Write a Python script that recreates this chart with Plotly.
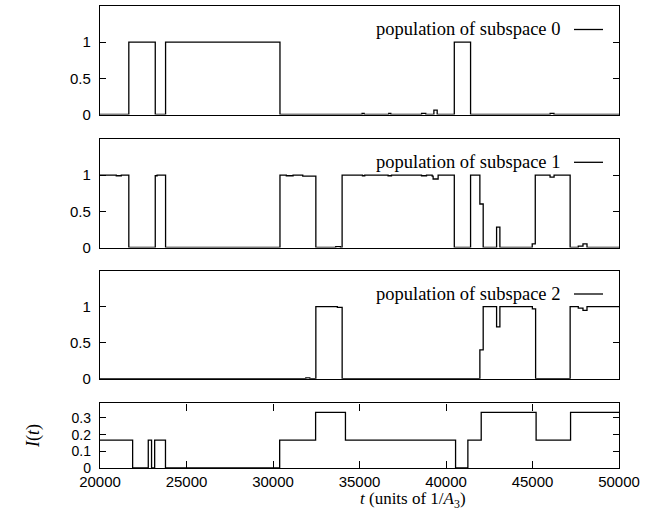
import plotly.graph_objects as go

# ---------------- data ----------------
s0_t = [20000, 21666, 23194, 23790, 30403, 35150, 35270, 36690, 36810, 38590, 38830,
        39300, 39490, 40480, 41420, 46020, 46240, 50000]
s0_v = [0, 1, 0, 1, 0, 0.015, 0, 0.015, 0, 0.015, 0,
        0.06, 0, 1, 0, 0.015, 0, 0]

s1_t = [20000, 20940, 21230, 21666, 23194, 23300, 23790, 30403, 30770, 31160, 31720,
        32477, 33626, 33898, 33995, 35171, 35304, 36652, 36849, 38585, 38874, 39200,
        39256, 39545, 40480, 41420, 41958, 42150, 42924, 43115, 44984, 45160, 46015,
        46247, 47176, 47646, 47918, 48150, 50000]
s1_v = [1.0, 0.99, 1.0, 0, 0.99, 1.0, 0, 1.0, 0.99, 1.0, 0.985,
        0, 0.012, 0, 1.0, 0.99, 1.0, 0.99, 1.0, 0.99, 1.0, 0.985,
        0.945, 1.0, 0, 1.0, 0.6, 0, 0.28, 0, 0.05, 1.0, 0.97,
        1.0, 0, 0.02, 0.05, 0, 0]

s2_t = [20000, 31896, 32128, 32477, 33720, 33997, 41958, 42150, 42924, 43115, 44993,
        45180, 47176, 47646, 47918, 48150, 50000]
s2_v = [0, 0.012, 0, 1.0, 0.99, 0, 0.4, 1.0, 0.72, 1.0, 0.97,
        0, 1.0, 0.98, 0.95, 1.0, 1.0]

I_t = [20000, 21886, 22790, 22980, 23160, 23785, 30386, 32463, 34188, 40553, 41264,
       42035, 45208, 47200, 50000]
I_v = [1/6, 0, 1/6, 0, 1/6, 0, 1/6, 1/3, 1/6, 0, 1/6,
       1/3, 1/6, 1/3, 1/3]

legend_names = ["population of subspace 0", "population of subspace 1",
                "population of subspace 2"]
x_ticks = [20000, 25000, 30000, 35000, 40000, 45000, 50000]
x_ticktext = ["20000", "25000", "30000", "35000", "40000", "45000", "50000"]
pop_ticks = [0, 0.5, 1]
pop_ticktext = ["0", "0.5", "1"]
I_ticks = [0, 0.1, 0.2, 0.3]
I_ticktext = ["0", "0.1", "0.2", "0.3"]

# ---------------- figure ----------------
W, H = 662, 510
ML, MR, MT, MB = 100, 43, 6, 42
PW, PH = W - ML - MR, H - MT - MB

def fy(py):  # pixel y -> paper fraction
    return (H - MB - py) / PH

def fx(px):
    return (px - ML) / PW

domains = [
    [fy(114.5), fy(6)],
    [fy(247.5), fy(138.8)],
    [fy(378.7), fy(270.7)],
    [fy(468), fy(403.3)],
]

fig = go.Figure()
series = [(s0_t, s0_v), (s1_t, s1_v), (s2_t, s2_v), (I_t, I_v)]
for i, (t, v) in enumerate(series):
    suffix = "" if i == 0 else str(i + 1)
    fig.add_trace(go.Scatter(x=t, y=v, mode="lines", line=dict(color="black", width=1.3, shape="hv"),
                             xaxis="x" + suffix, yaxis="y" + suffix, showlegend=False,
                             hoverinfo="skip"))

tick_font = dict(family="Liberation Sans, Arial, sans-serif", size=15, color="black")
tick_font_small = dict(family="Liberation Sans, Arial, sans-serif", size=14, color="black")
layout = dict(width=W, height=H, margin=dict(l=ML, r=MR, t=MT, b=MB),
              paper_bgcolor="white", plot_bgcolor="white", showlegend=False)

for i in range(4):
    suffix = "" if i == 0 else str(i + 1)
    last = (i == 3)
    xa = dict(domain=[0, 1], range=[20000, 50000], anchor="y" + suffix,
              showline=True, linecolor="black", linewidth=1.4, mirror="ticks" if last else True,
              showgrid=False, zeroline=False,
              ticks="inside" if last else "", ticklen=7, tickcolor="black", tickwidth=1.2,
              tickvals=x_ticks, ticktext=x_ticktext, showticklabels=last,
              tickfont=tick_font, ticklabelstandoff=0)
    if i > 0:
        xa["matches"] = "x"
    ya = dict(domain=domains[i], anchor="x" + suffix,
              range=[0, 0.388] if last else [0, 1.5],
              tickvals=I_ticks if last else pop_ticks,
              ticktext=I_ticktext if last else pop_ticktext,
              showline=True, linecolor="black", linewidth=1.4, mirror="ticks",
              showgrid=False, zeroline=False,
              ticks="inside", ticklen=6, tickcolor="black", tickwidth=1.2,
              tickfont=tick_font_small if last else tick_font, ticklabelstandoff=5)
    layout["xaxis" + suffix] = xa
    layout["yaxis" + suffix] = ya

fig.update_layout(**layout)

serif = "Liberation Serif, Times New Roman, serif"
legend_y = [29.5, 162.3, 294.0]
for name, py in zip(legend_names, legend_y):
    fig.add_annotation(x=fx(561.7), y=fy(py), xref="paper", yref="paper", text=name,
                       showarrow=False, xanchor="right", yanchor="middle",
                       font=dict(family=serif, size=18.5, color="black"))
    fig.add_shape(type="line", xref="paper", yref="paper", x0=fx(574), x1=fx(603),
                  y0=fy(py), y1=fy(py), line=dict(color="black", width=1.3))

fig.add_annotation(x=fx(413), y=fy(499.5), xref="paper", yref="paper",
                   text="<i>t</i> (units of 1/<i>A</i><sub>3</sub>)", showarrow=False,
                   xanchor="center", yanchor="middle",
                   font=dict(family=serif, size=17, color="black"))
fig.add_annotation(x=fx(33), y=fy(436), xref="paper", yref="paper",
                   text="<i>I</i>(<i>t</i>)", showarrow=False, textangle=-90,
                   xanchor="center", yanchor="middle",
                   font=dict(family=serif, size=18, color="black"))

fig.write_html("out.html")
